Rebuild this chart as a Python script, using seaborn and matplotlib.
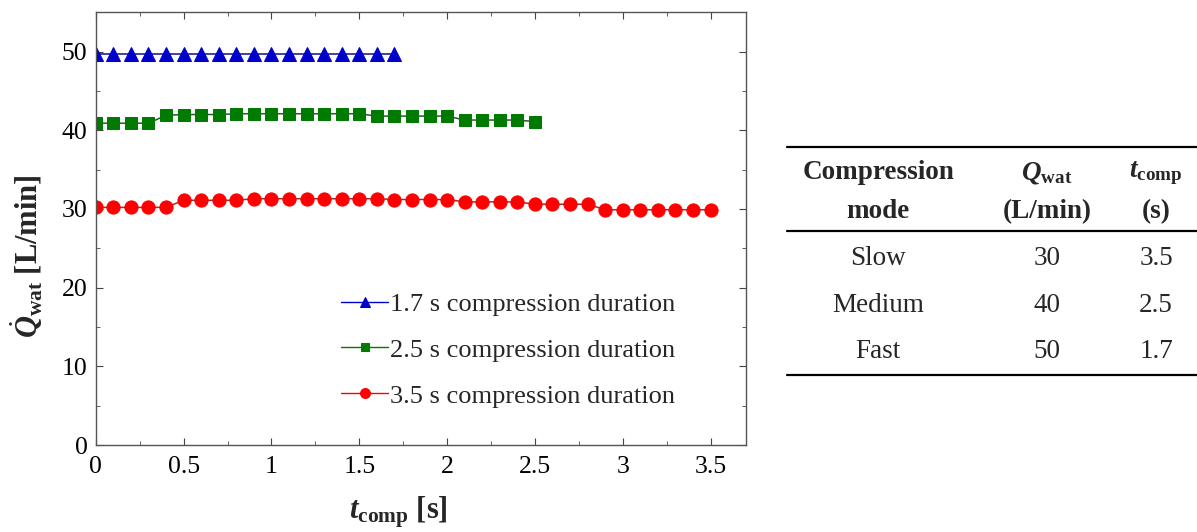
### Bibliotheken
import numpy as np
import pandas as pd
import matplotlib.pyplot as plt
import seaborn as sns


### Daten
t_fast = [0.0, 0.1, 0.2, 0.3, 0.4, 0.5, 0.6, 0.7, 0.8, 0.9, 1.0, 1.1, 1.2, 1.3, 1.4, 1.5, 1.6, 1.7]
q_fast = [49.7, 49.7, 49.7, 49.7, 49.7, 49.7, 49.7, 49.7, 49.7, 49.7, 49.7, 49.7, 49.7, 49.7, 49.7, 49.7, 49.7, 49.7]

t_medium = [0.0, 0.1, 0.2, 0.3, 0.4, 0.5, 0.6, 0.7, 0.8, 0.9, 1.0, 1.1, 1.2,
            1.3, 1.4, 1.5, 1.6, 1.7, 1.8, 1.9, 2.0, 2.1, 2.2, 2.3, 2.4, 2.5]
q_medium = [40.9, 40.9, 40.9, 40.9, 41.9, 42.0, 42.0, 42.0, 42.1, 42.1, 42.1, 42.1, 42.1,
            42.1, 42.1, 42.1, 41.8, 41.8, 41.8, 41.8, 41.8, 41.3, 41.3, 41.3, 41.3, 41.1]

t_slow = [0.0, 0.1, 0.2, 0.3, 0.4, 0.5, 0.6, 0.7, 0.8, 0.9, 1.0, 1.1, 1.2, 1.3, 1.4, 1.5, 1.6, 1.7,
          1.8, 1.9, 2.0, 2.1, 2.2, 2.3, 2.4, 2.5, 2.6, 2.7, 2.8, 2.9, 3.0, 3.1, 3.2, 3.3, 3.4, 3.5]
q_slow = [30.2, 30.2, 30.2, 30.2, 30.2, 31.1, 31.1, 31.1, 31.1, 31.3, 31.3, 31.3, 31.3, 31.3, 31.3, 31.3, 31.3, 31.2,
          31.2, 31.2, 31.2, 30.9, 30.9, 30.9, 30.9, 30.6, 30.6, 30.6, 30.6, 29.9, 29.9, 29.9, 29.9, 29.9, 29.9, 29.9]

series_labels = ["1.7 s compression duration", "2.5 s compression duration", "3.5 s compression duration"]

# Tabelle rechts
table_modes = ["Slow", "Medium", "Fast"]
table_q = ["30", "40", "50"]
table_t = ["3.5", "2.5", "1.7"]


### Stil
sns.set_style("ticks")
plt.rcParams['font.family'] = ['Liberation Serif', 'DejaVu Serif']
plt.rcParams['mathtext.fontset'] = 'custom'
plt.rcParams['mathtext.rm'] = 'Liberation Serif'
plt.rcParams['mathtext.it'] = 'Liberation Serif:italic'
plt.rcParams['mathtext.bf'] = 'Liberation Serif:bold'
plt.rcParams['mathtext.bfit'] = 'Liberation Serif:bold:italic'

fig = plt.figure(figsize=(11.97, 5.32), dpi=100)
ax = fig.add_axes([0.080, 0.1635, 0.543, 0.8135])

# (x, y, Markerfarbe, Linienfarbe, Marker, Größe)
styles = [
    (t_fast, q_fast, "#0000CC", "#10108A", "^", 10),
    (t_medium, q_medium, "#007A00", "#2A5A2A", "s", 8.5),
    (t_slow, q_slow, "#FF0000", "#9A3030", "o", 9.5),
]
for (tt, qq, col, lcol, mk, ms), lab in zip(styles, series_labels):
    df = pd.DataFrame({"t": tt, "q": qq})
    sns.lineplot(data=df, x="t", y="q", ax=ax, color=lcol, marker=mk, markersize=ms,
                 markerfacecolor=col, markeredgecolor=col, linewidth=1.1, label=lab)

ax.set_xlim(0, 3.7)
ax.set_ylim(0, 55)
ax.set_xticks([0, 0.5, 1, 1.5, 2, 2.5, 3, 3.5])
ax.set_xticklabels(["0", "0.5", "1", "1.5", "2", "2.5", "3", "3.5"])
ax.set_yticks([0, 10, 20, 30, 40, 50])
ax.set_xticks(np.arange(0, 3.7, 0.25), minor=True)
ax.set_yticks(np.arange(0, 55, 5), minor=True)
ax.tick_params(which="both", direction="in", top=True, right=True, labelsize=18.5, colors="#444444",
               labelcolor="black")
ax.tick_params(axis="x", which="both", pad=8)
ax.tick_params(axis="y", which="both", pad=6)
ax.tick_params(which="major", length=5)
ax.tick_params(which="minor", length=3)
for sp in ax.spines.values():
    sp.set_color("#555555")
    sp.set_linewidth(1.0)

ax.set_xlabel(r"$\mathbfit{t}_{\mathbf{comp}}$ [s]", fontsize=22, fontweight="bold")
ax.set_ylabel(r"$\dot{\mathbfit{Q}}_{\mathbf{wat}}$ [L/min]", fontsize=22, fontweight="bold")
ax.xaxis.set_label_coords(0.466, -0.115)
ax.yaxis.set_label_coords(-0.078, 0.436)

leg = ax.legend(loc="lower left", bbox_to_anchor=(0.361, 0.062), frameon=False, fontsize=19,
                handlelength=1.8, handletextpad=0.05, labelspacing=0.85, borderaxespad=0,
                markerscale=0.75)
for h, (_, _, col, _, _, _) in zip(leg.legend_handles, styles):
    h.set_color(col)
    h.set_linewidth(1.0)


### Tabelle
tab = fig.add_axes([0.6575, 0.2951, 0.3425, 0.4286])
tab.set_xlim(0, 1)
tab.set_ylim(0, 1)
tab.axis("off")

for yl in [1.0, 0.632, 0.0]:
    tab.plot([0, 1], [yl, yl], color="black", linewidth=1.6, clip_on=False)

col_x = [0.222, 0.634, 0.90]
fs_tab = 19.5
tab.text(col_x[0], 0.886, "Compression", ha="center", va="center", fontsize=fs_tab, fontweight="bold")
tab.text(col_x[0], 0.715, "mode", ha="center", va="center", fontsize=fs_tab, fontweight="bold")
tab.text(col_x[1], 0.886, r"$\mathbfit{Q}_{\mathbf{wat}}$", ha="center", va="center", fontsize=fs_tab)
tab.text(col_x[1], 0.715, "(L/min)", ha="center", va="center", fontsize=fs_tab, fontweight="bold")
tab.text(col_x[2], 0.886, r"$\mathbfit{t}_{\mathbf{comp}}$", ha="center", va="center", fontsize=fs_tab)
tab.text(col_x[2], 0.715, "(s)", ha="center", va="center", fontsize=fs_tab, fontweight="bold")

row_y = [0.513, 0.307, 0.105]
for y, m, q, t in zip(row_y, table_modes, table_q, table_t):
    tab.text(col_x[0], y, m, ha="center", va="center", fontsize=fs_tab)
    tab.text(col_x[1], y, q, ha="center", va="center", fontsize=fs_tab)
    tab.text(col_x[2], y, t, ha="center", va="center", fontsize=fs_tab)

plt.savefig("out.png", dpi=100)
